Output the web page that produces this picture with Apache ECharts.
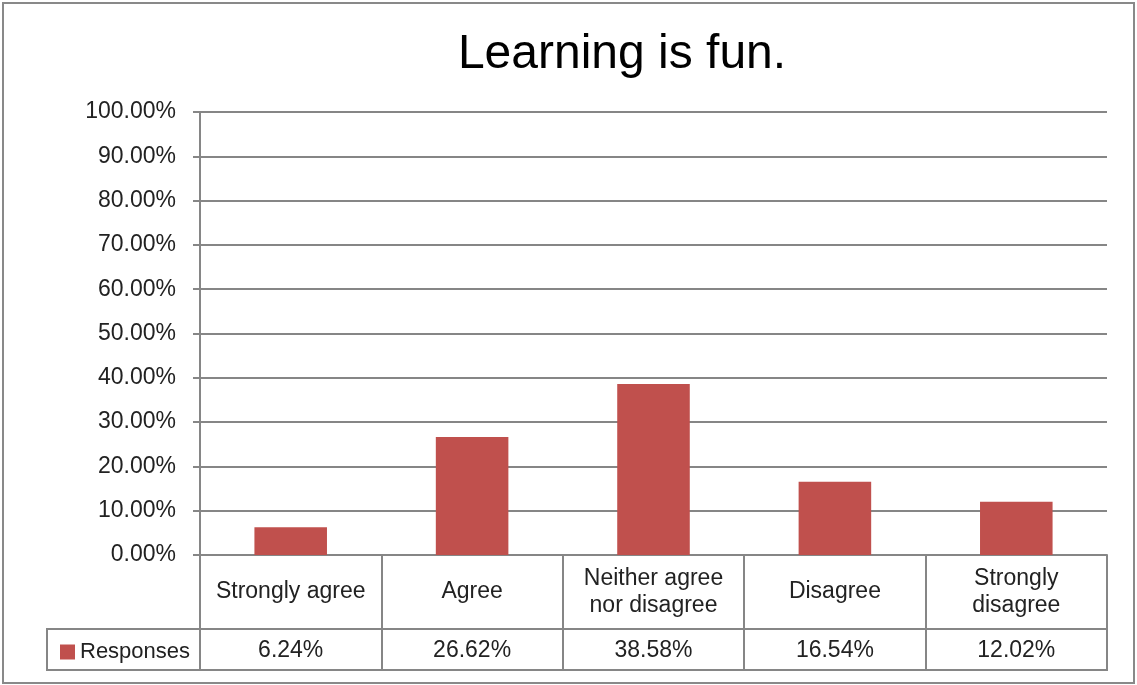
<!DOCTYPE html>
<html>
<head>
<meta charset="utf-8">
<script src="https://cdn.jsdelivr.net/npm/echarts@6/dist/echarts.min.js"></script>
<style>
  html, body { margin: 0; padding: 0; background: #fff; }
  #chart { width: 1137px; height: 685px; }
</style>
</head>
<body>
<div id="chart"></div>
<script>
// 图表数据
var categories = ['Strongly agree', 'Agree', 'Neither agree\nnor disagree', 'Disagree', 'Strongly\ndisagree'];
var responses = [0.0624, 0.2662, 0.3858, 0.1654, 0.1202];
var seriesName = 'Responses';

var lineColor = '#868686';
var barColor = '#C0504D';
var font = 'Liberation Sans';

function pct(v) {
    return (v * 100).toFixed(2) + '%';
}

var myChart = echarts.init(document.getElementById('chart'));

var option = {
    backgroundColor: '#fff',
    animation: false,
    title: {
        text: 'Learning is fun.',
        left: 617,
        top: 26,
        textAlign: 'center',
        textStyle: { fontFamily: font, fontSize: 48, fontWeight: 'normal', color: '#000' }
    },
    legend: {
        data: [seriesName],
        left: 55,
        top: 636,
        icon: 'rect',
        itemWidth: 15,
        itemHeight: 15,
        itemGap: 6,
        textStyle: { fontFamily: font, fontSize: 22, color: '#222' }
    },
    grid: { left: 200, right: 30, top: 112, bottom: 130, containLabel: false },
    xAxis: [
        {
            type: 'category',
            data: categories,
            axisLine: { lineStyle: { color: lineColor, width: 2 } },
            axisTick: { show: true, interval: 0, length: 74, lineStyle: { color: lineColor, width: 2 } },
            axisLabel: {
                interval: 0,
                hideOverlap: false,
                margin: 37,
                verticalAlign: 'middle',
                lineHeight: 27,
                fontFamily: font, fontSize: 23, color: '#222'
            }
        },
        {
            type: 'category',
            position: 'bottom',
            offset: 74,
            data: responses.map(pct),
            axisLine: { lineStyle: { color: lineColor, width: 2 } },
            axisTick: { show: true, interval: 0, length: 41, lineStyle: { color: lineColor, width: 2 } },
            axisLabel: {
                interval: 0,
                hideOverlap: false,
                margin: 22,
                verticalAlign: 'middle',
                fontFamily: font, fontSize: 23, color: '#222'
            }
        }
    ],
    yAxis: {
        type: 'value',
        min: 0,
        max: 1,
        interval: 0.1,
        axisLine: { show: true, lineStyle: { color: lineColor, width: 2 } },
        axisTick: { show: true, length: 7, lineStyle: { color: lineColor, width: 2 } },
        splitLine: { lineStyle: { color: lineColor, width: 2 } },
        axisLabel: {
            margin: 24,
            formatter: pct,
            fontFamily: font, fontSize: 23, color: '#222'
        }
    },
    series: [
        {
            name: seriesName,
            type: 'bar',
            barWidth: '40%',
            data: responses,
            itemStyle: { color: barColor }
        }
    ],
    graphic: [
        {
            type: 'rect',
            shape: { x: 3, y: 3, width: 1131, height: 680 },
            style: { fill: 'none', stroke: '#898989', lineWidth: 2 },
            silent: true
        },
        {
            // 数据表左侧图例格子和底边
            type: 'polyline',
            shape: { points: [[200, 629], [47, 629], [47, 670], [1107, 670], [1107, 555]] },
            style: { fill: 'none', stroke: lineColor, lineWidth: 2 },
            silent: true
        },
        {
            type: 'line',
            shape: { x1: 200, y1: 555, x2: 200, y2: 670 },
            style: { stroke: lineColor, lineWidth: 2 },
            silent: true
        }
    ]
};

myChart.setOption(option, true);
</script>
</body>
</html>
